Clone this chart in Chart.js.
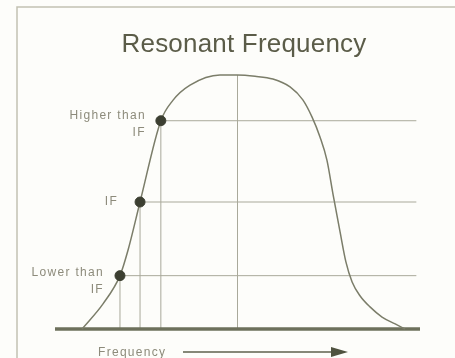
<!DOCTYPE html>
<html>
<head>
<meta charset="utf-8">
<title>Resonant Frequency</title>
<script src="https://cdn.jsdelivr.net/npm/chart.js@4"></script>
<style>
  html, body { margin: 0; padding: 0; background: #fdfdfa; overflow: hidden; }
  #wrap { width: 455px; height: 358px; }
</style>
</head>
<body>
<div id="wrap"><canvas id="resonanceChart" width="455" height="358"></canvas></div>
<script>
'use strict'

//++++++++++++++Chart Data++++++++++++++//
// response curve, frequency (0-100) against level (0-100)
let curveFreq = [7.4, 13.2, 17.8, 20.0, 23.3, 29.0, 32.3, 37.0, 45.2, 49.9, 54.8, 59.7, 64.4, 67.9, 70.4, 72.6, 74.5, 76.2, 78.1, 79.7, 81.4, 83.6, 86.3, 89.6, 93.2, 95.9];
let curveLevel = [0, 10, 21, 31, 50, 82, 90, 96, 100, 100, 99.5, 98.4, 95.3, 90.2, 83.5, 75.6, 66.5, 52.8, 38.2, 26.4, 18.5, 13.0, 8.7, 4.7, 2.0, 0];

// the three tuning points marked on the rising edge
let markerFreq = [17.8, 23.3, 29.0];
let markerLevel = [21, 50, 82];
let markerLabels = [['Lower than', 'IF'], ['IF'], ['Higher than', 'IF']];

let centerFreq = 50;
let guideEnd = 99;
let axisTitle = 'Frequency';
let chartTitle = 'Resonant Frequency';

//++++++++++++++Colours++++++++++++++//
let inkDark = '#3c3f31';
let inkCurve = '#7b7d69';
let inkGuide = '#a9a99a';
let inkLabel = '#8d8b7b';
let inkTitle = '#5b5c48';

//+++++++++++Build Datasets++++++++++++++++//
function segment(points, color, width, order) {
  return {
    data: points,
    borderColor: color,
    borderWidth: width,
    pointRadius: 0,
    fill: false,
    clip: false,
    order: order
  };
}

function buildDatasets() {
  let sets = [];

  // markers on top
  sets.push({
    data: markerFreq.map((f, i) => ({ x: f, y: markerLevel[i] })),
    showLine: false,
    pointRadius: 5,
    pointBackgroundColor: inkDark,
    pointBorderColor: inkDark,
    clip: false,
    order: 0
  });

  // the response curve itself
  let curve = segment(curveFreq.map((f, i) => ({ x: f, y: curveLevel[i] })), inkCurve, 1.5, 1);
  curve.cubicInterpolationMode = 'monotone';
  sets.push(curve);

  // thick base line
  sets.push(segment([{ x: 0, y: 0 }, { x: 100, y: 0 }], '#6d705b', 3.5, 2));

  // centre line up to the peak
  sets.push(segment([{ x: centerFreq, y: 0 }, { x: centerFreq, y: 100 }], inkGuide, 1, 3));

  // guide lines from each marker across and down
  for (let i = 0; i < markerFreq.length; i++) {
    sets.push(segment([{ x: markerFreq[i], y: markerLevel[i] }, { x: guideEnd, y: markerLevel[i] }], inkGuide, 1, 3));
    sets.push(segment([{ x: markerFreq[i], y: 0 }, { x: markerFreq[i], y: markerLevel[i] }], inkGuide, 1, 3));
  }
  return sets;
}

//+++++++++++++ Text, frame and arrow +++++++++++++++//
let decorPlugin = {
  id: 'decor',
  afterDraw(chart) {
    let ctx = chart.ctx;
    let xs = chart.scales.x;
    let ys = chart.scales.y;
    ctx.save();

    // frame on left and top
    ctx.strokeStyle = '#c2c1b2';
    ctx.lineWidth = 1.5;
    ctx.beginPath();
    ctx.moveTo(17, 358);
    ctx.lineTo(17, 7);
    ctx.lineTo(455, 7);
    ctx.stroke();

    // title
    ctx.fillStyle = inkTitle;
    ctx.font = '26px "Liberation Sans", Arial, sans-serif';
    ctx.letterSpacing = '0.2px';
    ctx.textAlign = 'center';
    ctx.textBaseline = 'alphabetic';
    ctx.fillText(chartTitle, 244, 52);

    // marker labels, right aligned to the left of each dot
    let gaps = [16, 22, 15];
    let lifts = [3, 0, 5];
    ctx.fillStyle = inkLabel;
    ctx.font = '12px "Liberation Sans", Arial, sans-serif';
    ctx.letterSpacing = '1.3px';
    ctx.textAlign = 'right';
    ctx.textBaseline = 'middle';
    markerLabels.forEach((lines, i) => {
      let px = xs.getPixelForValue(markerFreq[i]) - gaps[i];
      let py = ys.getPixelForValue(markerLevel[i]) - lifts[i];
      lines.forEach((line, j) => {
        ctx.fillText(line, px, py + j * 17);
      });
    });

    // frequency axis caption and arrow
    ctx.textAlign = 'left';
    ctx.fillText(axisTitle, 98, 353);
    ctx.strokeStyle = '#5e614d';
    ctx.lineWidth = 1.5;
    ctx.beginPath();
    ctx.moveTo(183, 352);
    ctx.lineTo(334, 352);
    ctx.stroke();
    ctx.fillStyle = '#4f523f';
    ctx.beginPath();
    ctx.moveTo(331, 347);
    ctx.lineTo(348, 352);
    ctx.lineTo(331, 357);
    ctx.closePath();
    ctx.fill();

    ctx.restore();
  }
};

//++++++++++++ Chart ++++++++++++++++++++//
const ctx = document.getElementById('resonanceChart').getContext('2d');
const resonanceChart = new Chart(ctx, {
  type: 'line',
  data: { datasets: buildDatasets() },
  options: {
    responsive: false,
    animation: false,
    devicePixelRatio: 1,
    layout: { padding: { left: 55, right: 35, top: 75, bottom: 29 } },
    scales: {
      x: { type: 'linear', min: 0, max: 100, display: false },
      y: { type: 'linear', min: 0, max: 100, display: false }
    },
    plugins: {
      legend: { display: false },
      tooltip: { enabled: false }
    }
  },
  plugins: [decorPlugin]
});
</script>
</body>
</html>
